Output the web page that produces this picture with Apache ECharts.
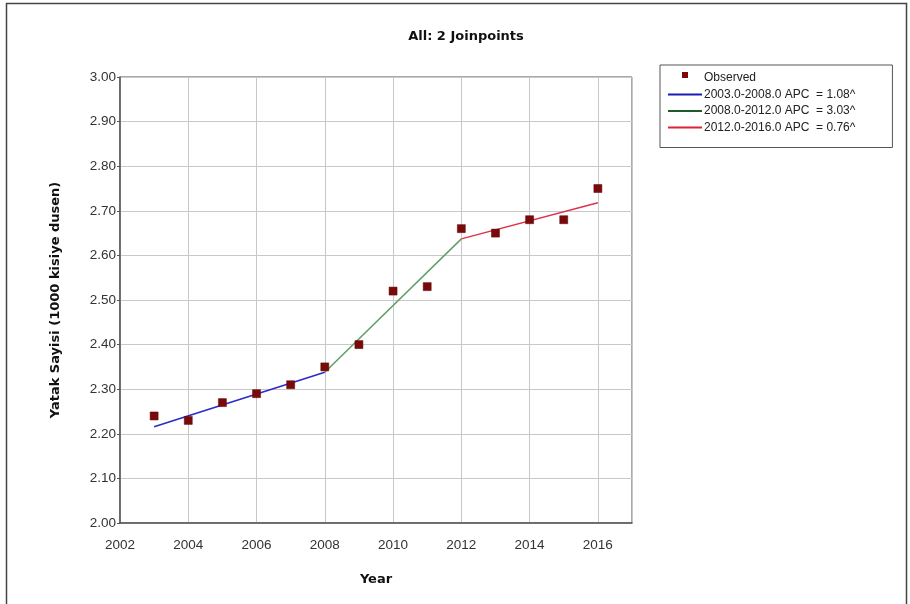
<!DOCTYPE html>
<html>
<head>
<meta charset="utf-8">
<script src="https://cdn.jsdelivr.net/npm/echarts@6/dist/echarts.min.js"></script>
<style>
  html, body { margin: 0; padding: 0; background: #fff; }
  #chart { width: 910px; height: 604px; }
</style>
</head>
<body>
<div id="chart"></div>
<script>
// Observed bed counts per 1000 people, by year
const years = [2003, 2004, 2005, 2006, 2007, 2008, 2009, 2010, 2011, 2012, 2013, 2014, 2015, 2016];
const observed = [2.24, 2.23, 2.27, 2.29, 2.31, 2.35, 2.40, 2.52, 2.53, 2.66, 2.65, 2.68, 2.68, 2.75];

// Joinpoint segment endpoints (year, modelled value)
const segment1Years = [2003, 2008];
const segment1Values = [2.216, 2.338];
const segment2Years = [2008, 2012];
const segment2Values = [2.338, 2.637];
const segment3Years = [2012, 2016];
const segment3Values = [2.637, 2.718];

const segmentNames = [
  '2003.0-2008.0 APC  = 1.08^',
  '2008.0-2012.0 APC  = 3.03^',
  '2012.0-2016.0 APC  = 0.76^'
];

const pairs = (xs, ys) => xs.map((x, i) => [x, ys[i]]);

// legend glyphs: the leading moves pin the bounding box to the full 34x12 item
const lineIcon = 'path://M0 0 M34 12 M0 5 L34 5 L34 7 L0 7 Z';
const markerIcon = 'path://M0 0 M34 12 M14 0 L20 0 L20 6 L14 6 Z';

const chart = echarts.init(document.getElementById('chart'), null, { renderer: 'canvas' });

const option = {
  backgroundColor: '#ffffff',
  animation: false,
  title: {
    text: 'All: 2 Joinpoints',
    left: 461,
    top: 25,
    textAlign: 'center',
    textStyle: { fontFamily: 'DejaVu Sans', fontWeight: 'bold', fontSize: 13, color: '#111' }
  },
  graphic: [{
    type: 'rect',
    shape: { x: 6.5, y: 3.5, width: 900, height: 640 },
    style: { fill: 'none', stroke: '#444', lineWidth: 1.5 },
    silent: true
  }],
  legend: {
    orient: 'vertical',
    left: 660,
    top: 65,
    padding: [7, 37, 14, 8],
    borderColor: '#555',
    borderWidth: 1,
    itemWidth: 34,
    itemHeight: 12,
    itemGap: 4.5,
    textStyle: { fontFamily: 'Liberation Sans', fontSize: 12, color: '#222', padding: [0, 0, 0, -3] },
    data: [
      { name: 'Observed', icon: markerIcon, itemStyle: { color: '#7a0a0a', opacity: 1, borderWidth: 0 } },
      { name: segmentNames[0], icon: lineIcon, itemStyle: { color: '#1a1ab8', borderWidth: 0 } },
      { name: segmentNames[1], icon: lineIcon, itemStyle: { color: '#1f5a2a', borderWidth: 0 } },
      { name: segmentNames[2], icon: lineIcon, itemStyle: { color: '#e0203a', borderWidth: 0 } }
    ]
  },
  grid: { left: 120, right: 278, top: 77, bottom: 81, show: true, borderColor: '#555', borderWidth: 1 },
  xAxis: {
    type: 'value',
    min: 2002,
    max: 2017,
    interval: 2,
    name: 'Year',
    nameLocation: 'middle',
    nameGap: 50,
    nameTextStyle: { fontFamily: 'DejaVu Sans', fontWeight: 'bold', fontSize: 13, color: '#111' },
    axisLine: { show: true, lineStyle: { color: '#555', width: 1.5 } },
    axisTick: { show: false },
    axisLabel: {
      showMaxLabel: false,
      margin: 15,
      fontFamily: 'Liberation Sans', fontSize: 13.5, color: '#333',
      formatter: v => String(v)
    },
    splitLine: { show: true, lineStyle: { color: '#c8c8c8', width: 1 } }
  },
  yAxis: {
    type: 'value',
    min: 2.0,
    max: 3.0,
    interval: 0.1,
    name: 'Yatak Sayisi (1000 kisiye dusen)',
    nameLocation: 'middle',
    nameGap: 58,
    nameTextStyle: { fontFamily: 'DejaVu Sans', fontWeight: 'bold', fontSize: 13, color: '#111' },
    axisLine: { show: true, lineStyle: { color: '#555', width: 1.5 } },
    axisTick: { show: true, length: 3, inside: false, lineStyle: { color: '#555' } },
    axisLabel: {
      margin: 4,
      fontFamily: 'Liberation Sans', fontSize: 13.5, color: '#333',
      formatter: v => v.toFixed(2)
    },
    splitLine: { show: true, lineStyle: { color: '#c8c8c8', width: 1 } }
  },
  series: [
    {
      name: segmentNames[0],
      type: 'line',
      data: pairs(segment1Years, segment1Values),
      symbol: 'none',
      lineStyle: { color: '#2a2ac8', width: 1.5 },
      itemStyle: { color: '#1a1ab8' },
      z: 2
    },
    {
      name: segmentNames[1],
      type: 'line',
      data: pairs(segment2Years, segment2Values),
      symbol: 'none',
      lineStyle: { color: '#5f9e6a', width: 1.5 },
      itemStyle: { color: '#1f5a2a' },
      z: 2
    },
    {
      name: segmentNames[2],
      type: 'line',
      data: pairs(segment3Years, segment3Values),
      symbol: 'none',
      lineStyle: { color: '#e0304a', width: 1.5 },
      itemStyle: { color: '#e0203a' },
      z: 2
    },
    {
      name: 'Observed',
      type: 'scatter',
      data: pairs(years, observed),
      symbol: 'rect',
      symbolSize: 8,
      itemStyle: { color: '#7a0a0a', opacity: 1, borderColor: '#5a0000', borderWidth: 0.5 },
      z: 3
    }
  ]
};

chart.setOption(option);
</script>
</body>
</html>
